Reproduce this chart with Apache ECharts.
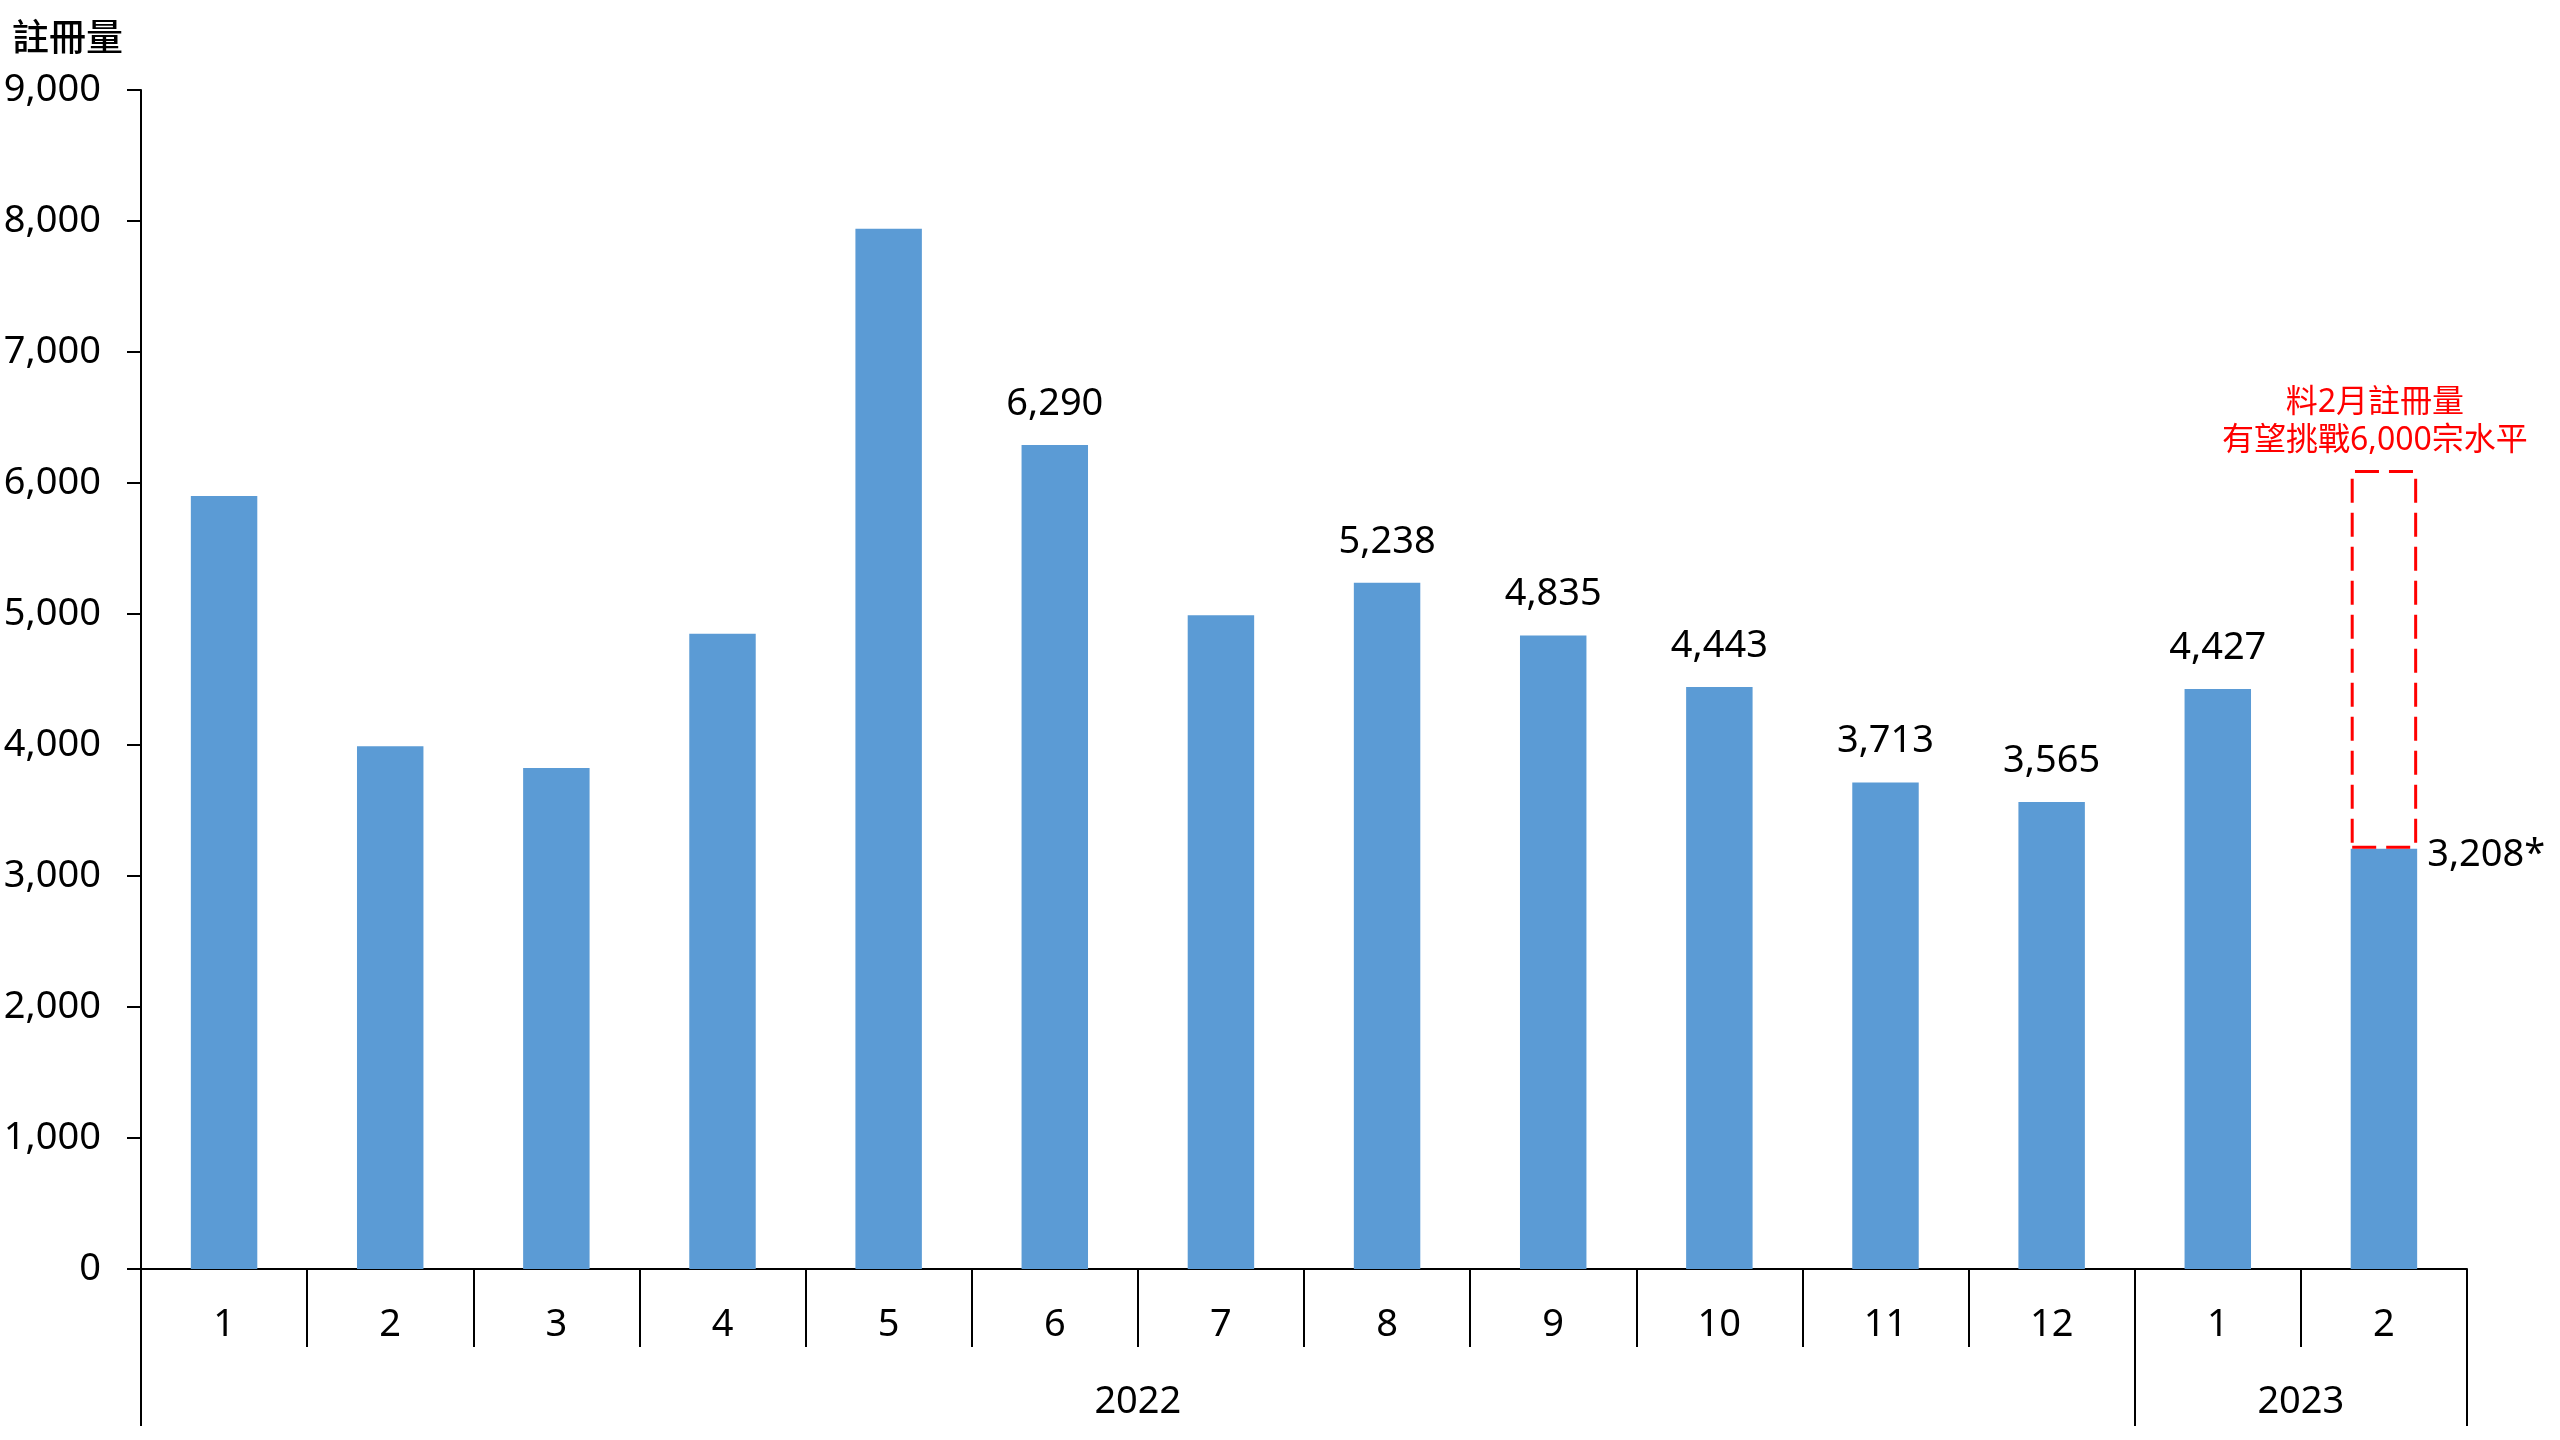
<!DOCTYPE html>
<html>
<head>
<meta charset="utf-8">
<script src="https://cdn.jsdelivr.net/npm/echarts@6/dist/echarts.min.js"></script>
<style>
html,body{margin:0;padding:0;background:#fff;}
#chart{width:2560px;height:1440px;}
</style>
</head>
<body>
<div id="chart"></div>
<script>
// ---- data ----
const months = ['1','2','3','4','5','6','7','8','9','10','11','12','1','2'];
const values = [5900, 3990, 3825, 4850, 7940, 6290, 4990, 5238, 4835, 4443, 3713, 3565, 4427, 3208];
const showLabel = [false, false, false, false, false, true, false, true, true, true, true, true, true, true];
const lastLabelSuffix = '*';
const years = [ { name: '2022', start: 0, end: 12 }, { name: '2023', start: 12, end: 14 } ];
const yTicks = { min: 0, max: 9000, interval: 1000 };
const yAxisTitle = '註冊量';
const expectedLevel = 6100; // top of the dashed "expected" box for Feb 2023
const annotationText = '料2月註冊量\n有望挑戰6,000宗水平';

// ---- derived ----
const FONT = "'Noto Sans', 'Noto Sans CJK TC', sans-serif";
const fmt = v => v.toLocaleString('en-US');
const nBound = months.length + 1;
const yearSlots = new Array(nBound).fill('');
const yearBoundary = new Set([0]);
years.forEach(y => { yearSlots[(y.start + y.end) / 2] = y.name; yearBoundary.add(y.start); yearBoundary.add(y.end); });
const lastIdx = values.length - 1;

const barData = values.map((v, i) => {
  const item = { value: v, label: { show: showLabel[i] } };
  if (i === lastIdx) {
    item.label = {
      show: true, position: ['100%', 0], offset: [10, 6], align: 'left', verticalAlign: 'middle',
      formatter: fmt(v) + lastLabelSuffix
    };
  }
  return item;
});
const boxData = values.map((v, i) => i === lastIdx ? expectedLevel - v : null);

const chart = echarts.init(document.getElementById('chart'), null, { renderer: 'canvas' });
chart.setOption({
  animation: false,
  backgroundColor: '#ffffff',
  textStyle: { fontFamily: FONT },
  title: {
    text: yAxisTitle, left: 7, top: 17,
    textStyle: { fontFamily: FONT, fontSize: 37, fontWeight: 500, color: '#000' }
  },
  grid: { left: 141, right: 93, top: 90, bottom: 171, containLabel: false },
  xAxis: [
    {
      type: 'category', data: months, boundaryGap: true, position: 'bottom',
      axisLine: { show: true, lineStyle: { color: '#000', width: 2 } },
      axisTick: { show: true, length: 78, interval: 0, lineStyle: { color: '#000', width: 2 } },
      axisLabel: { interval: 0, margin: 37, fontSize: 38, color: '#000', fontFamily: FONT }
    },
    {
      type: 'category', data: yearSlots, boundaryGap: false, position: 'bottom',
      axisLine: { show: false },
      axisTick: { show: true, length: 157, interval: (i) => yearBoundary.has(i), lineStyle: { color: '#000', width: 2 } },
      axisLabel: { interval: 0, margin: 114, fontSize: 38, color: '#000', fontFamily: FONT }
    }
  ],
  yAxis: {
    type: 'value', min: yTicks.min, max: yTicks.max, interval: yTicks.interval,
    axisLine: { show: true, lineStyle: { color: '#000', width: 2 } },
    axisTick: { show: true, length: 14, lineStyle: { color: '#000', width: 2 } },
    splitLine: { show: false },
    axisLabel: { margin: 40, fontSize: 38, color: '#000', fontFamily: FONT, formatter: v => fmt(v) }
  },
  series: [
    {
      type: 'bar', stack: 'total', data: barData, barWidth: '40%',
      itemStyle: { color: '#5B9BD5' },
      label: {
        position: 'top', distance: 22, fontSize: 38, color: '#000', fontFamily: FONT,
        formatter: p => fmt(p.value)
      }
    },
    {
      type: 'bar', stack: 'total', data: boxData, barWidth: '40%',
      itemStyle: { color: 'rgba(0,0,0,0)', borderColor: '#FF0000', borderWidth: 3, borderType: [24, 10] },
      label: {
        show: true, position: 'top', distance: 10, offset: [-9, 0],
        fontSize: 32, lineHeight: 38, color: '#FF0000', fontFamily: FONT, align: 'center',
        formatter: annotationText
      }
    }
  ]
});
</script>
</body>
</html>
